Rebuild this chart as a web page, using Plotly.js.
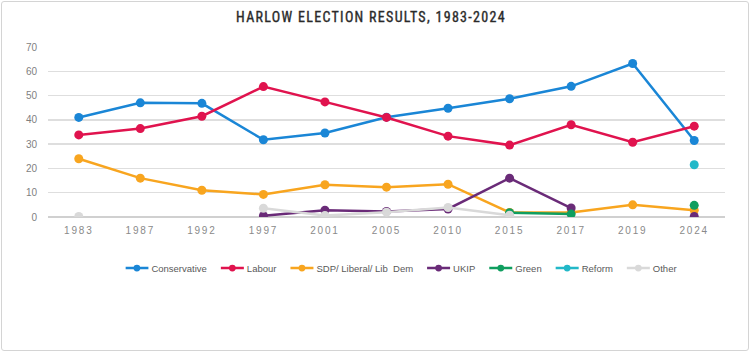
<!DOCTYPE html>
<html>
<head>
<meta charset="utf-8">
<script src="https://cdn.plot.ly/plotly-3.0.1.min.js"></script>
<style>
  html, body { margin: 0; padding: 0; background: #fff; }
  #wrap { position: relative; width: 750px; height: 352px; }
  #chart { width: 750px; height: 352px; }
  #frame { position: absolute; left: 1px; top: 1px; width: 746px; height: 348px; border: 1px solid #d4d4d4; border-radius: 3px; pointer-events: none; }
  .gtitle { letter-spacing: 1.3px; stroke: #2a2a2a; stroke-width: 0.35px; }
  .xtick text { letter-spacing: 1.8px; }
</style>
</head>
<body>
<div id="wrap"><div id="chart"></div><div id="frame"></div></div>
<script>
const years = ["1983","1987","1992","1997","2001","2005","2010","2015","2017","2019","2024"];
const conservative = [41, 47, 46.8, 31.8, 34.6, 41.1, 44.8, 48.7, 53.8, 63.2, 31.5];
const labour       = [33.8, 36.4, 41.5, 53.7, 47.4, 41, 33.3, 29.6, 38, 30.8, 37.4];
const libdem       = [24, 16, 11, 9.3, 13.3, 12.3, 13.5, 1.9, 1.9, 5, 2.8];
const ukip         = [null, null, null, 0.5, 2.8, 2.3, 3.3, 16, 3.7, null, 0.2];
const green        = [null, null, null, null, null, null, null, 1.8, 1.2, null, 4.8];
const reform       = [null, null, null, null, null, null, null, null, null, null, 21.5];
const other        = [0.2, null, null, 3.6, 0.6, 2, 3.9, 0.7, null, null, null];

const names  = ["Conservative", "Labour", "SDP/ Liberal/ Lib  Dem", "UKIP", "Green", "Reform", "Other"];
const series = [conservative, labour, libdem, ukip, green, reform, other];
const colors = ["#1a86d6", "#e0134e", "#f8a51f", "#6a2b78", "#0f9e5f", "#22b8c8", "#d9d9d9"];

const traces = series.map((s, i) => ({
  type: "scatter",
  mode: "lines+markers",
  x: years,
  y: s,
  name: names[i],
  line: { color: colors[i], width: 2.5 },
  marker: { color: colors[i], size: 9 },
  connectgaps: false
}));

const layout = {
  width: 750, height: 352,
  paper_bgcolor: "#ffffff", plot_bgcolor: "#ffffff",
  margin: { l: 48, r: 25, t: 47, b: 135 },
  title: {
    text: "HARLOW ELECTION RESULTS, 1983-2024",
    font: { family: "Liberation Sans Narrow, Roboto Condensed, Arial Narrow, Liberation Sans, sans-serif", size: 14, color: "#2a2a2a" },
    x: 0.4947, xanchor: "center", y: 1 - 17/352, yanchor: "middle", yref: "container"
  },
  xaxis: {
    type: "category",
    range: [-0.5, 10.5],
    showgrid: false, zeroline: false, showline: false,
    ticks: "",
    ticklabelstandoff: 6,
    tickfont: { family: "Liberation Sans, Arial, sans-serif", size: 10, color: "#8a8a8a" },
    fixedrange: true
  },
  yaxis: {
    range: [0, 70],
    dtick: 10,
    showgrid: true, gridcolor: "#dedede", gridwidth: 1.5,
    zeroline: true, zerolinecolor: "#d0d0d0", zerolinewidth: 1.5,
    showline: false, ticks: "",
    ticklabelstandoff: 10,
    tickfont: { family: "Liberation Sans, Arial, sans-serif", size: 10, color: "#7f7f7f" },
    fixedrange: true
  },
  legend: {
    orientation: "h",
    x: 0.5, xanchor: "center", xref: "container",
    y: 1 - 268/352, yanchor: "middle", yref: "container",
    font: { family: "Liberation Sans, Arial, sans-serif", size: 9.5, color: "#595959" },
    itemwidth: 30,
    tracegroupgap: 0
  },
  showlegend: true
};

function tweakLegend() {
  const legend = document.querySelector('.legend');
  if (!legend) return;
  const items = legend.querySelectorAll('.traces');
  let x = 0;
  const pos = [];
  items.forEach(g => {
    const line = g.querySelector('.legendlines path');
    if (line) line.setAttribute('d', 'M0,0h23');
    g.querySelectorAll('.legendpoints path').forEach(p => p.setAttribute('transform', 'translate(11.5,0) scale(0.75)'));
    const t = g.querySelector('.legendtext');
    t.setAttribute('x', 26);
    const w = t.getComputedTextLength();
    const m = /translate\(\s*([-\d.e]+)[ ,]+([-\d.e]+)\s*\)/.exec(g.getAttribute('transform') || '');
    const ty = m ? parseFloat(m[2]) : 0;
    pos.push([x, ty]);
    x += 26 + w + 14;
  });
  const total = x - 14;
  items.forEach((g, i) => g.setAttribute('transform', `translate(${pos[i][0]},${pos[i][1]})`));
  const lm = /translate\(\s*([-\d.e]+)[ ,]+([-\d.e]+)\s*\)/.exec(legend.getAttribute('transform') || '');
  const ly = lm ? parseFloat(lm[2]) : 0;
  legend.setAttribute('transform', `translate(${401 - total / 2},${ly})`);
}

Plotly.newPlot("chart", traces, layout, { displayModeBar: false, staticPlot: true }).then(tweakLegend);
</script>
</body>
</html>
